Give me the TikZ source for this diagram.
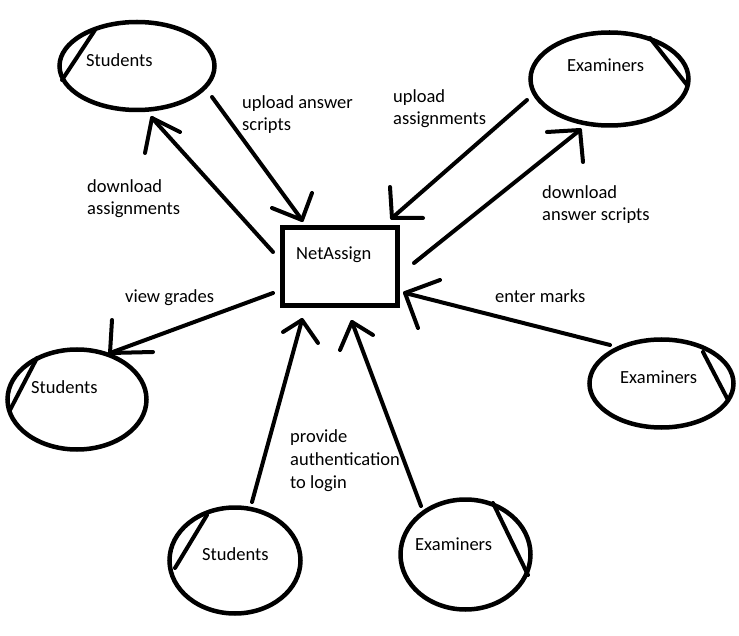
\documentclass[tikz,border=0pt]{standalone}
\usepackage{fontspec}
\setmainfont{Carlito}
\usetikzlibrary{shapes.geometric}
\begin{document}
\begin{tikzpicture}[x=1pt,y=-1pt,
  actor/.style={draw, ellipse, line width=4.5pt, inner sep=0pt},
  sysbox/.style={draw, rectangle, line width=5pt, inner sep=0pt},
  pen/.style={line width=4pt, line cap=round, line join=round},
  lbl/.style={anchor=base west, inner sep=0pt, align=left,
              font=\fontsize{18.5}{22.8}\selectfont}]
\useasboundingbox (0,0) rectangle (739,636);

% central system
\node[sysbox, minimum width=115pt, minimum height=78pt] (sys) at (340,266.5) {};
\node[lbl] (sysname) at (296,260) {NetAssign};

% actors
\node[actor, minimum width=155pt, minimum height=88pt]  (stuA) at (137,66) {};
\node[actor, minimum width=158pt, minimum height=93pt]  (exaA) at (609.5,79) {};
\node[actor, minimum width=139pt, minimum height=100pt] (stuB) at (77,399.5) {};
\node[actor, minimum width=131pt, minimum height=106pt] (stuC) at (235,560.5) {};
\node[actor, minimum width=130pt, minimum height=110pt] (exaC) at (465.5,554.5) {};
\node[actor, minimum width=144pt, minimum height=88pt]  (exaB) at (661.5,383.5) {};

% actor names
\node[lbl] (stuAname) at (86,67)   {Students};
\node[lbl] (exaAname) at (567,72)  {Examiners};
\node[lbl] (stuBname) at (31,393)  {Students};
\node[lbl] (stuCname) at (202,560) {Students};
\node[lbl] (exaCname) at (415,550) {Examiners};
\node[lbl] (exaBname) at (620,383) {Examiners};

% chords marking each actor
\coordinate (stuAc1) at (95,30);   \coordinate (stuAc2) at (62,80);
\coordinate (exaAc1) at (650,38);  \coordinate (exaAc2) at (687,85);
\coordinate (stuBc1) at (37,358);  \coordinate (stuBc2) at (10,410);
\coordinate (stuCc1) at (207,515); \coordinate (stuCc2) at (175,568);
\coordinate (exaCc1) at (493,503); \coordinate (exaCc2) at (528,575);
\coordinate (exaBc1) at (703,352); \coordinate (exaBc2) at (728,400);
\foreach \a in {stuA,exaA,stuB,stuC,exaC,exaB}
  \draw[pen] (\a c1) -- (\a c2);

% flow end points: start, tip, two barbs
\coordinate (f1s) at (212,97);  \coordinate (f1t) at (302,220);
\coordinate (f1a) at (272,208); \coordinate (f1b) at (312,193);
\coordinate (f2s) at (273,252); \coordinate (f2t) at (152,118);
\coordinate (f2a) at (180,132); \coordinate (f2b) at (145,153);
\coordinate (f3s) at (527,100); \coordinate (f3t) at (392,218);
\coordinate (f3a) at (390,187); \coordinate (f3b) at (423,218);
\coordinate (f4s) at (414,263); \coordinate (f4t) at (580,130);
\coordinate (f4a) at (547,132); \coordinate (f4b) at (583,162);
\coordinate (f5s) at (273,293); \coordinate (f5t) at (110,353);
\coordinate (f5a) at (112,320); \coordinate (f5b) at (153,352);
\coordinate (f6s) at (610,345); \coordinate (f6t) at (405,293);
\coordinate (f6a) at (440,280); \coordinate (f6b) at (418,328);
\coordinate (f7s) at (252,502); \coordinate (f7t) at (302,320);
\coordinate (f7a) at (283,332); \coordinate (f7b) at (318,343);
\coordinate (f8s) at (421,506); \coordinate (f8t) at (352,322);
\coordinate (f8a) at (340,350); \coordinate (f8b) at (373,335);
\foreach \f in {f1,f2,f3,f4,f5,f6,f7,f8} {
  \draw[pen] (\f s) -- (\f t);
  \draw[pen] (\f a) -- (\f t) -- (\f b);
}

% flow labels (anchored at the baseline of their last line)
\node[lbl] (l1) at (242,131) {upload answer\\scripts};
\node[lbl] (l2) at (87,215)  {download\\assignments};
\node[lbl] (l3) at (393,125) {upload\\assignments};
\node[lbl] (l4) at (542,221) {download\\answer scripts};
\node[lbl] (l5) at (125,303) {view grades};
\node[lbl] (l6) at (495,303) {enter marks};
\node[lbl] (l7) at (290,488) {provide\\authentication\\to login};
\end{tikzpicture}
\end{document}
